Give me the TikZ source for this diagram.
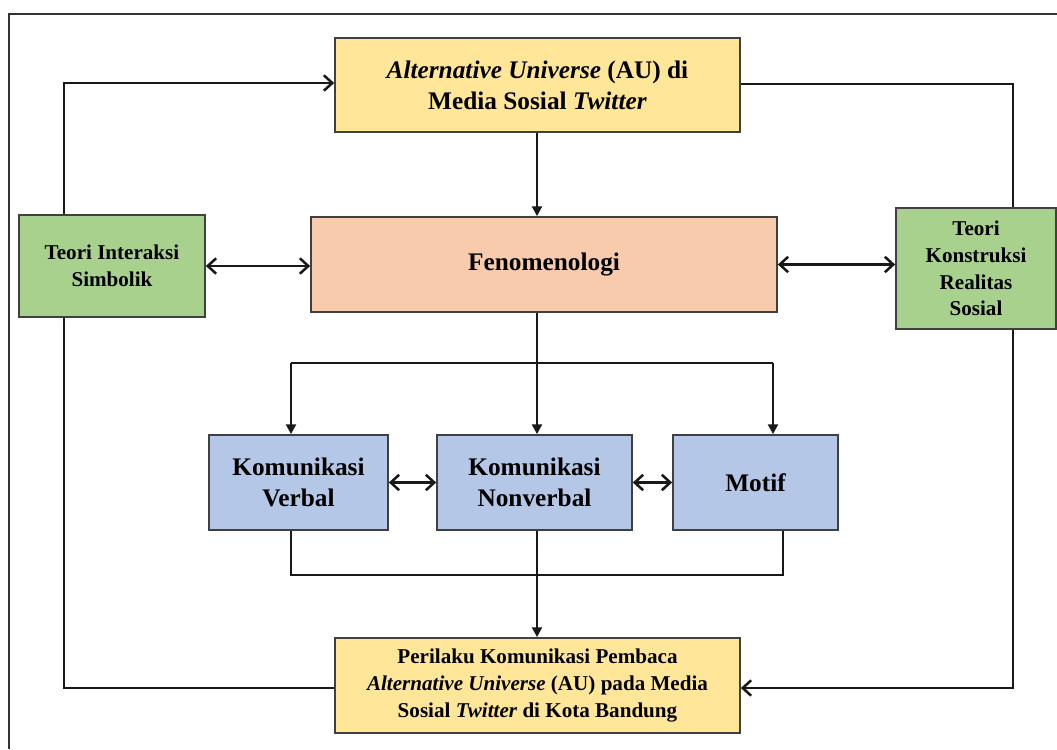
\documentclass[tikz,border=0pt]{standalone}
\usepackage{fontspec}
\setmainfont{Liberation Serif}
\usetikzlibrary{arrows.meta}
\definecolor{AUYellow}{HTML}{FFE699}
\definecolor{FenPeach}{HTML}{F8CBAD}
\definecolor{TeoriGreen}{HTML}{A9D18E}
\definecolor{KomBlue}{HTML}{B4C7E7}
\begin{document}
\begin{tikzpicture}[x=0.025cm,y=-0.025cm,
    box/.style={draw=black!75, line width=1.2pt, align=center, inner sep=0pt,
        font=\bfseries\fontsize{18}{22}\selectfont},
    smallbox/.style={box, font=\bfseries\fontsize{15}{19}\selectfont},
    link/.style={line width=1.8pt, black!90},
    twoway/.style={link, {Straight Barb[length=6pt,width=11pt]}-{Straight Barb[length=6pt,width=11pt]}},
    oneway/.style={link, -{Straight Barb[length=6pt,width=11pt]}},
    down/.style={link, -{Triangle[length=7pt,width=7pt]}}]
    \useasboundingbox (0,0) rectangle (1057,749);
    \draw [black!80, line width=0.8pt] (9,749) -- (9,14) -- (1057,14);% page frame
    \coordinate (SplitTop)  at (537,363);
    \coordinate (BusLeft)   at (291,363);
    \coordinate (BusRight)  at (773,363);
    \coordinate (JoinLeft)  at (291,575);
    \coordinate (JoinRight) at (783,575);
    \coordinate (LoopTL)    at (64,83);
    \coordinate (LoopBL)    at (64,688);
    \coordinate (LoopTR)    at (1013,84);
    \coordinate (LoopBR)    at (1013,688);
    \node [box, fill=AUYellow, minimum width=405*0.025cm, minimum height=94*0.025cm] (AU) at (537.5,85)
        {\textit{Alternative Universe} (AU) di\\Media Sosial \textit{Twitter}};
    \node [box, fill=FenPeach, minimum width=466*0.025cm, minimum height=95*0.025cm] (Fen) at (544,264.5)
        {Fenomenologi};
    \node [smallbox, fill=TeoriGreen, minimum width=186*0.025cm, minimum height=102*0.025cm] (TIS) at (112,266)
        {Teori Interaksi\\Simbolik};
    \node [smallbox, fill=TeoriGreen, minimum width=160*0.025cm, minimum height=121*0.025cm] (TKRS) at (976,268.5)
        {Teori\\Konstruksi\\Realitas\\Sosial};
    \node [box, fill=KomBlue, minimum width=179*0.025cm, minimum height=95*0.025cm] (KV) at (298.5,482.5)
        {Komunikasi\\Verbal};
    \node [box, fill=KomBlue, minimum width=195*0.025cm, minimum height=95*0.025cm] (KN) at (534.5,482.5)
        {Komunikasi\\Nonverbal};
    \node [box, fill=KomBlue, minimum width=165*0.025cm, minimum height=95*0.025cm] (Motif) at (755.5,482.5)
        {Motif};
    \node [smallbox, fill=AUYellow, minimum width=405*0.025cm, minimum height=95*0.025cm] (PKP) at (537.5,685.5)
        {Perilaku Komunikasi Pembaca\\\textit{Alternative Universe} (AU) pada Media\\Sosial \textit{Twitter} di Kota Bandung};
    \draw [down] (SplitTop |- AU.south) -- (SplitTop |- Fen.north);
    \draw [link] (SplitTop |- Fen.south) -- (SplitTop);% split to the three boxes
    \draw [link] (BusLeft) -- (BusRight);
    \draw [down] (BusLeft) -- (BusLeft |- KV.north);
    \draw [down] (SplitTop) -- (SplitTop |- KN.north);
    \draw [down] (BusRight) -- (BusRight |- Motif.north);
    \draw [link] (JoinLeft |- KV.south) -- (JoinLeft) -- (JoinRight) -- (JoinRight |- Motif.south);
    \draw [down] (SplitTop |- KN.south) -- (SplitTop |- PKP.north);
    \draw [twoway] (KV.east) -- (KV.east -| KN.west);
    \draw [twoway] (KN.east) -- (KN.east -| Motif.west);
    \draw [twoway] (TIS.east) -- (TIS.east -| Fen.west);
    \draw [twoway] (Fen.east) -- (Fen.east -| TKRS.west);
    \draw [oneway] (LoopTL |- TIS.north) -- (LoopTL) -- (LoopTL -| AU.west);% left loop
    \draw [link] (LoopBL |- TIS.south) -- (LoopBL) -- (LoopBL -| PKP.west);
    \draw [link] (LoopTR -| AU.east) -- (LoopTR) -- (LoopTR |- TKRS.north);% right loop
    \draw [oneway] (LoopBR |- TKRS.south) -- (LoopBR) -- (LoopBR -| PKP.east);
\end{tikzpicture}
\end{document}
